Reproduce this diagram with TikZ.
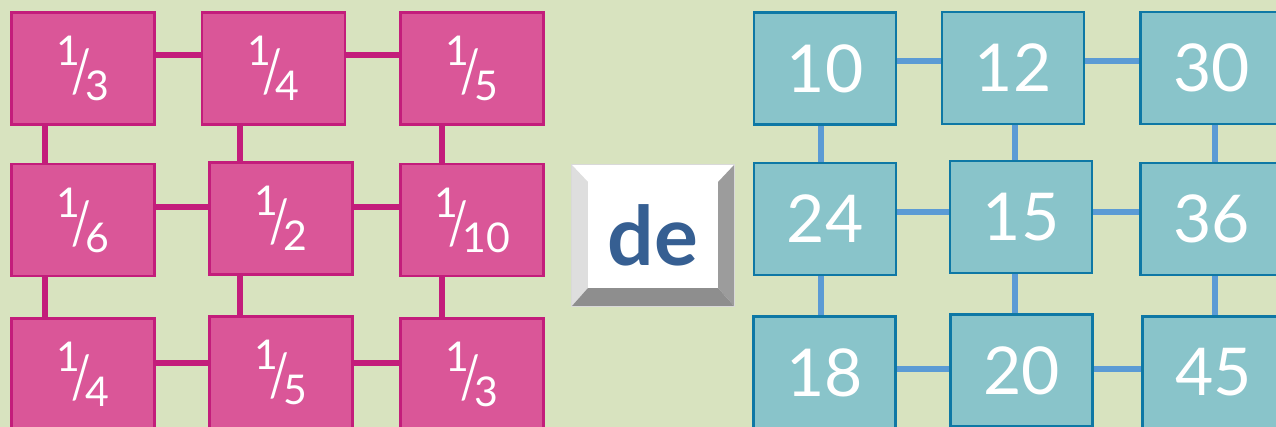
\documentclass[tikz,border=0pt]{standalone}
\usepackage{fontspec}
\setmainfont{Lato}
\usetikzlibrary{backgrounds}
\definecolor{bgcol}{HTML}{D8E3BF}
\definecolor{pinkfill}{HTML}{DA5698}
\definecolor{pinkedge}{HTML}{C31D7B}
\definecolor{tealfill}{HTML}{89C4CA}
\definecolor{tealedge}{HTML}{0E78A5}
\definecolor{wireblue}{HTML}{5B9BD5}
\definecolor{keyblue}{HTML}{365F92}
\definecolor{keylight}{HTML}{DEDEDE}
\definecolor{keymid}{HTML}{9C9C9C}
\definecolor{keydark}{HTML}{8E8E8E}
\newcommand{\frc}[2]{\fontsize{41}{41}\selectfont\raisebox{35pt}{#1}\kern-9pt\raisebox{8pt}{\scalebox{1.05}[1.45]{/}}\kern-6pt#2}

\begin{document}
\begin{tikzpicture}[x=1pt,y=-1pt,
    pinkbox/.style={draw=pinkedge,fill=pinkfill,line width=2.6pt,minimum width=143pt,minimum height=112pt,inner sep=0pt,text=white},
    tealbox/.style={draw=tealedge,fill=tealfill,line width=2.6pt,minimum width=142pt,minimum height=112pt,inner sep=0pt,text=white,font=\fontsize{66}{66}\selectfont},
    pinkwire/.style={pinkedge,line width=6pt},
    tealwire/.style={wireblue,line width=6pt}]
    \useasboundingbox (0,0) rectangle (1276,427);
    \foreach \n/\x/\y/\a/\b in {A/83/68.5/1/3,B/273.5/68.5/1/4,C/472/68.5/1/5,
        D/83/220/1/6,E/281/218.5/1/2,F/472/220/1/10,
        G/83/374.5/1/4,H/281/372.5/1/5,I/472/374.5/1/3}
      \node[pinkbox] (\n) at (\x,\y) {\frc{\a}{\b}};
    \foreach \n/\x/\y/\t in {t10/825/68.5/10,t12/1013/68/12,t30/1211.5/68/30,
        t24/825/219/24,t15/1021/217/15,t36/1211.5/219/36,
        t18/824.5/372.5/18,t20/1021.5/370.5/20,t45/1213.5/372.5/45}
      \node[tealbox] (\n) at (\x,\y) {\t};
    \node[minimum width=162pt,minimum height=141pt,inner sep=0pt,text=keyblue,
      font=\fontsize{82}{82}\selectfont\bfseries] (key) at (653,235.5) {de};
    \begin{scope}[on background layer]
      \fill[bgcol] (0,0) rectangle (1276,427);
      \foreach \a/\b/\d in {A/B/13.5,B/C/13.5,D/E/13,E/F/11.5,G/H/11.5,H/I/9.5}
        \draw[pinkwire] ([yshift=\d pt]\a.center) -- ([yshift=\d pt]\a.center -| \b.center);
      \foreach \a/\b/\d in {A/D/38,B/E/33.5,C/F/30,D/G/38,E/H/41,F/I/30}
        \draw[pinkwire] ([xshift=-\d pt]\a.center) -- ([xshift=-\d pt]\a.center |- \b.center);
      \foreach \a/\b/\d in {t10/t12/7.5,t12/t30/7,t24/t15/7,t15/t36/5,t18/t20/3.5,t20/t45/1.5}
        \draw[tealwire] ([yshift=\d pt]\a.center) -- ([yshift=\d pt]\a.center -| \b.center);
      \foreach \a/\b/\d in {t10/t24/-4,t12/t15/2,t30/t36/3.5,t24/t18/-4,t15/t20/-6,t36/t45/3.5}
        \draw[tealwire] ([xshift=\d pt]\a.center) -- ([xshift=\d pt]\a.center |- \b.center);
      \fill[white] (key.north west) rectangle (key.south east);
      \fill[keylight] (key.north west) -- ([xshift=16pt,yshift=-17pt]key.north west)
        -- ([xshift=16pt,yshift=18pt]key.south west) -- (key.south west) -- cycle;
      \fill[keymid] (key.north east) -- ([xshift=-16pt,yshift=-17pt]key.north east)
        -- ([xshift=-16pt,yshift=18pt]key.south east) -- (key.south east) -- cycle;
      \fill[keydark] (key.south west) -- ([xshift=16pt,yshift=18pt]key.south west)
        -- ([xshift=-16pt,yshift=18pt]key.south east) -- (key.south east) -- cycle;
      \draw[gray!30,line width=0.8pt] (key.north west) rectangle (key.south east);
    \end{scope}
\end{tikzpicture}
\end{document}
